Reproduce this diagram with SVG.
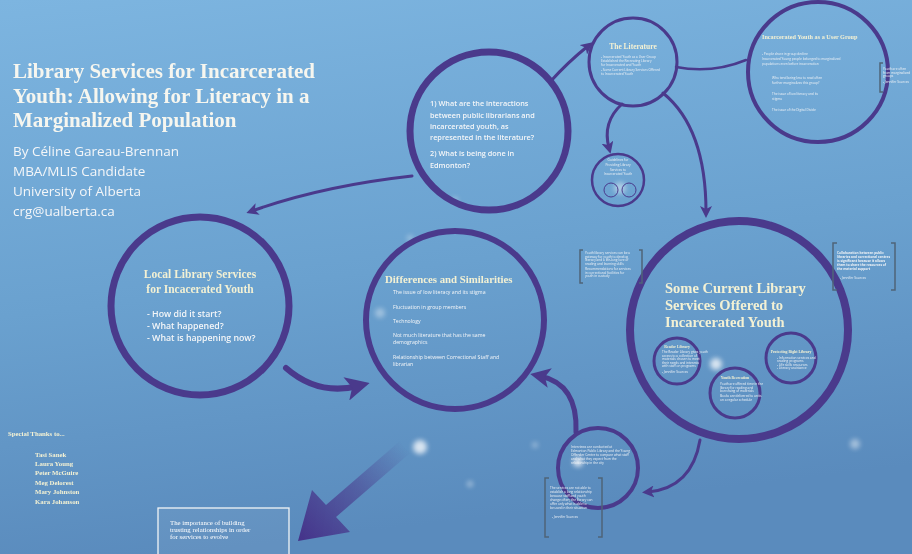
<svg xmlns="http://www.w3.org/2000/svg" width="912" height="554" viewBox="0 0 912 554">
<defs>
<linearGradient id="bg" x1="0" y1="0" x2="0.2" y2="1">
<stop offset="0" stop-color="#7db5e0"/>
<stop offset="0.55" stop-color="#6aa1cf"/>
<stop offset="1" stop-color="#5a8bbd"/>
</linearGradient>
<linearGradient id="bigArrow" x1="405" y1="447" x2="300" y2="540" gradientUnits="userSpaceOnUse">
<stop offset="0" stop-color="#4a3a8c" stop-opacity="0"/>
<stop offset="0.45" stop-color="#4a3a8c" stop-opacity="0.55"/>
<stop offset="1" stop-color="#45338a"/>
</linearGradient>
<filter id="blur" x="-1" y="-1" width="3" height="3"><feGaussianBlur stdDeviation="2.5"/></filter>
<marker id="ah" viewBox="0 0 10 10" refX="5" refY="5" markerWidth="4" markerHeight="4" orient="auto" markerUnits="strokeWidth">
<path d="M0,0 L10,5 L0,10 L2.5,5 Z" fill="#4a3a8c"/>
</marker>
</defs>
<style>
.ring{fill:none;stroke:#4a3a8c}
.con{fill:none;stroke:#4a3a8c;stroke-linecap:round}
.serif{font-family:"Liberation Serif","DejaVu Serif",serif;font-weight:bold;fill:#f3f1d4}
.title{fill:#f6f6ef}
.sub{fill:#eef0d8}
.white{fill:#ffffff;font-weight:normal}
.sans{font-family:"Open Sans","Liberation Sans",sans-serif;fill:#f4f6f8}
.tiny{font-family:"Open Sans","Liberation Sans",sans-serif;fill:#eef2f6;font-size:3.2px}
.br{fill:none;stroke:#4f6478;stroke-width:1.5}
.dot{fill:#ffffff;filter:url(#blur)}
</style>
<rect x="0" y="0" width="912" height="554" fill="url(#bg)"/>

<g id="bokeh" opacity="0.75">
<circle class="dot" cx="420" cy="447" r="7"/>
<circle class="dot" cx="380" cy="313" r="5" opacity="0.5"/>
<circle class="dot" cx="716" cy="364" r="6"/>
<circle class="dot" cx="578" cy="462" r="5"/>
<circle class="dot" cx="855" cy="444" r="5" opacity="0.6"/>
<circle class="dot" cx="470" cy="484" r="3" opacity="0.6"/>
<circle class="dot" cx="535" cy="445" r="3" opacity="0.5"/>
<circle class="dot" cx="410" cy="238" r="3" opacity="0.5"/>
<circle class="dot" cx="620" cy="188" r="6" opacity="0.6"/>
<circle class="dot" cx="455" cy="200" r="3" opacity="0.5"/>
</g>

<g id="connectors">
<path class="con" d="M550,82 Q568,62 588,46" stroke-width="3" marker-end="url(#ah)"/>
<path class="con" d="M622,104 Q602,122 609,148" stroke-width="3" marker-end="url(#ah)"/>
<path class="con" d="M676,67 Q712,74 746,60" stroke-width="2.5"/>
<path class="con" d="M663,93 Q706,128 706,212" stroke-width="3" marker-end="url(#ah)"/>
<path class="con" d="M412,176 Q322,186 252,211" stroke-width="3" marker-end="url(#ah)"/>
<path class="con" d="M286,368 Q318,396 358,386" stroke-width="6" marker-end="url(#ah)"/>
<path class="con" d="M576,432 Q578,384 540,376" stroke-width="5" marker-end="url(#ah)"/>
<path class="con" d="M700,440 Q692,488 648,492" stroke-width="3" marker-end="url(#ah)"/>
<polygon points="400,441 326,505 312,490 298,541 350,532 336,517 410,453" fill="url(#bigArrow)"/>
</g>

<g id="title">
<text class="serif title" font-size="21" x="13" y="78">Library Services for Incarcerated</text>
<text class="serif title" font-size="21" x="13" y="103">Youth: Allowing for Literacy in a</text>
<text class="serif title" font-size="21" x="13" y="127">Marginalized Population</text>
<text class="sans sub" font-size="13.5" x="13" y="156">By Céline Gareau-Brennan</text>
<text class="sans sub" font-size="13.5" x="13" y="176">MBA/MLIS Candidate</text>
<text class="sans sub" font-size="13.5" x="13" y="196">University of Alberta</text>
<text class="sans sub" font-size="13.5" x="13" y="216">crg@ualberta.ca</text>
</g>

<g id="questions">
<circle class="ring" cx="489" cy="131" r="79" stroke-width="7"/>
<text class="sans" font-size="7.3" font-weight="600" x="430" y="106">1) What are the interactions</text>
<text class="sans" font-size="7.3" font-weight="600" x="430" y="118">between public librarians and</text>
<text class="sans" font-size="7.3" font-weight="600" x="430" y="129">incarcerated youth, as</text>
<text class="sans" font-size="7.3" font-weight="600" x="430" y="140">represented in the literature?</text>
<text class="sans" font-size="7.3" font-weight="600" x="430" y="156">2) What is being done in</text>
<text class="sans" font-size="7.3" font-weight="600" x="430" y="168">Edmonton?</text>
</g>

<g id="literature">
<circle class="ring" cx="633" cy="62" r="44" stroke-width="3"/>
<text class="serif" font-size="7.5" x="633" y="49" text-anchor="middle">The Literature</text>
<text class="tiny" x="601" y="58">- Incarcerated Youth as a User Group</text>
<text class="tiny" x="601" y="62">Established the Recreating Library</text>
<text class="tiny" x="601" y="66">for Incarcerated and Youth</text>
<text class="tiny" x="601" y="71">- Some Current Library Services Offered</text>
<text class="tiny" x="601" y="75">to Incarcerated Youth</text>
</g>

<g id="user-group">
<circle class="ring" cx="818" cy="72" r="70" stroke-width="4"/>
<text class="serif" font-size="6.2" x="762" y="39">Incarcerated Youth as a User Group</text>
<text class="tiny" x="762" y="55">- People share in group decline</text>
<text class="tiny" x="762" y="60">Incarcerated Young people belonged to marginalized</text>
<text class="tiny" x="762" y="65">populations even before incarceration</text>
<text class="tiny" x="772" y="79">Who tend being less to read often</text>
<text class="tiny" x="772" y="84">further marginalizes this group?</text>
<text class="tiny" x="772" y="95">The issue of low literacy and its</text>
<text class="tiny" x="772" y="100">stigma</text>
<text class="tiny" x="772" y="111">The issue of the Digital Divide</text>
</g>

<g id="note-user-group">
<path class="br" d="M883,63 L880,63 L880,92 L883,92"/>
<text class="tiny" font-size="2.3" x="883" y="70">Youth are often</text>
<text class="tiny" font-size="2.3" x="883" y="73.5">from marginalized</text>
<text class="tiny" font-size="2.3" x="883" y="77">groups</text>
<text class="tiny" font-size="2.3" x="883" y="83">- Jennifer Sources</text>
</g>

<g id="guidelines">
<circle class="ring" cx="618" cy="180" r="26" stroke-width="2.5"/>
<text class="tiny" x="618" y="161" text-anchor="middle">Guidelines for</text>
<text class="tiny" x="618" y="166" text-anchor="middle">Providing Library</text>
<text class="tiny" x="618" y="170.5" text-anchor="middle">Services to</text>
<text class="tiny" x="618" y="175" text-anchor="middle">Incarcerated Youth</text>
<circle class="ring" cx="611" cy="190" r="7" stroke-width="1" stroke="#8aa8d8"/>
<circle class="ring" cx="629" cy="190" r="7" stroke-width="1" stroke="#8aa8d8"/>
</g>

<g id="local">
<circle class="ring" cx="200" cy="306" r="89" stroke-width="7"/>
<text class="serif" font-size="11.5" x="200" y="278" text-anchor="middle">Local Library Services</text>
<text class="serif" font-size="11.5" x="200" y="293" text-anchor="middle">for Incacerated Youth</text>
<text class="sans" font-size="8.8" font-weight="600" x="147" y="317">- How did it start?</text>
<text class="sans" font-size="8.8" font-weight="600" x="147" y="329">- What happened?</text>
<text class="sans" font-size="8.8" font-weight="600" x="147" y="341">- What is happening now?</text>
</g>

<g id="differences">
<circle class="ring" cx="455" cy="320" r="89" stroke-width="6"/>
<text class="serif" font-size="10.8" x="385" y="283">Differences and Similarities</text>
<text class="sans" font-size="5.2" x="393" y="294">The issue of low literacy and its stigma</text>
<text class="sans" font-size="5.2" x="393" y="309">Fluctuation in group members</text>
<text class="sans" font-size="5.2" x="393" y="323">Technology</text>
<text class="sans" font-size="5.2" x="393" y="337">Not much literature that has the same</text>
<text class="sans" font-size="5.2" x="393" y="343.5">demographics</text>
<text class="sans" font-size="5.2" x="393" y="359">Relationship between Correctional Staff and</text>
<text class="sans" font-size="5.2" x="393" y="365.5">librarian</text>
</g>

<g id="current">
<circle class="ring" cx="739" cy="330" r="109" stroke-width="8"/>
<text class="serif" font-size="14.5" x="665" y="293">Some Current Library</text>
<text class="serif" font-size="14.5" x="665" y="310">Services Offered to</text>
<text class="serif" font-size="14.5" x="665" y="327">Incarcerated Youth</text>
</g>

<g id="reader-library">
<circle class="ring" cx="677" cy="361" r="23" stroke-width="3"/>
<text class="serif" font-size="3.8" x="677" y="348" text-anchor="middle">Reader Library</text>
<text class="tiny" font-size="2.3" x="662" y="353">The Reader Library gives youth</text>
<text class="tiny" font-size="2.3" x="662" y="356.5">access to a collection of</text>
<text class="tiny" font-size="2.3" x="662" y="360">materials chosen to meet</text>
<text class="tiny" font-size="2.3" x="662" y="363.5">their needs and interests</text>
<text class="tiny" font-size="2.3" x="662" y="367">with staff on programs</text>
<text class="tiny" font-size="2.3" x="662" y="373">- Jennifer Sources</text>
</g>

<g id="youth-recreation">
<circle class="ring" cx="735" cy="393" r="25" stroke-width="3"/>
<text class="serif" font-size="3.8" x="735" y="379" text-anchor="middle">Youth Recreation</text>
<text class="tiny" font-size="2.3" x="720" y="385">Youth are offered time in the</text>
<text class="tiny" font-size="2.3" x="720" y="388.5">library for reading and</text>
<text class="tiny" font-size="2.3" x="720" y="392">borrowing of materials</text>
<text class="tiny" font-size="2.3" x="720" y="397">Books are delivered to units</text>
<text class="tiny" font-size="2.3" x="720" y="400.5">on a regular schedule</text>
</g>

<g id="protecting">
<circle class="ring" cx="791" cy="358" r="25" stroke-width="3"/>
<text class="serif" font-size="3.8" x="791" y="353" text-anchor="middle">Protecting Right Library</text>
<text class="tiny" font-size="2.3" x="777" y="358.5">- Information services and</text>
<text class="tiny" font-size="2.3" x="777" y="362">reading programs</text>
<text class="tiny" font-size="2.3" x="777" y="365.5">- Life skills resources</text>
<text class="tiny" font-size="2.3" x="777" y="369">- Literacy assistance</text>
</g>

<g id="note-left">
<path class="br" d="M583,250 L580,250 L580,283 L583,283"/>
<path class="br" d="M639,250 L642,250 L642,283 L639,283"/>
<text class="tiny" font-size="2.3" x="585" y="254">Youth library services can be a</text>
<text class="tiny" font-size="2.3" x="585" y="257.5">gateway for youth to develop</text>
<text class="tiny" font-size="2.3" x="585" y="261">literacy and a life-long love of</text>
<text class="tiny" font-size="2.3" x="585" y="264.5">reading and learning skills</text>
<text class="tiny" font-size="2.3" x="585" y="270">Recommendations for services</text>
<text class="tiny" font-size="2.3" x="585" y="273.5">in correctional facilities for</text>
<text class="tiny" font-size="2.3" x="585" y="277">youth in custody</text>
</g>

<g id="note-right">
<path class="br" d="M837,243 L833,243 L833,290 L837,290"/>
<path class="br" d="M891,243 L895,243 L895,290 L891,290"/>
<text class="tiny" font-size="2.6" font-weight="bold" x="837" y="254">Collaboration between public</text>
<text class="tiny" font-size="2.6" font-weight="bold" x="837" y="258">libraries and correctional centres</text>
<text class="tiny" font-size="2.6" font-weight="bold" x="837" y="262">is significant because it allows</text>
<text class="tiny" font-size="2.6" font-weight="bold" x="837" y="266">them to share the resources of</text>
<text class="tiny" font-size="2.6" font-weight="bold" x="837" y="270">the material support</text>
<text class="tiny" font-size="2.6" x="840" y="279">- Jennifer Sources</text>
</g>

<g id="edmonton">
<circle class="ring" cx="598" cy="468" r="40" stroke-width="4"/>
<text class="tiny" font-size="3" x="571" y="448">Interviews are conducted at</text>
<text class="tiny" font-size="3" x="571" y="452">Edmonton Public Library and the Young</text>
<text class="tiny" font-size="3" x="571" y="456">Offender Centre to compare what staff</text>
<text class="tiny" font-size="3" x="571" y="460">and what they expect from the</text>
<text class="tiny" font-size="3" x="571" y="464">relationship in the city</text>
</g>

<g id="note-bottom">
<path class="br" d="M549,478 L545,478 L545,537 L549,537"/>
<path class="br" d="M598,478 L602,478 L602,537 L598,537"/>
<text class="tiny" font-size="2.6" x="550" y="489">The services are not able to</text>
<text class="tiny" font-size="2.6" x="550" y="493">establish a long relationship</text>
<text class="tiny" font-size="2.6" x="550" y="497">because staff and youth</text>
<text class="tiny" font-size="2.6" x="550" y="501">change often; the library can</text>
<text class="tiny" font-size="2.6" x="550" y="505">offer only what is able to</text>
<text class="tiny" font-size="2.6" x="550" y="509">be used in their situation</text>
<text class="tiny" font-size="2.6" x="552" y="518">- Jennifer Sources</text>
</g>

<g id="thanks">
<text class="serif" font-size="6.8" x="8" y="436">Special Thanks to...</text>
<text class="serif" font-size="6.8" x="35" y="457">Tasi Sanek</text>
<text class="serif" font-size="6.8" x="35" y="466">Laura Young</text>
<text class="serif" font-size="6.8" x="35" y="475">Peter McGuire</text>
<text class="serif" font-size="6.8" x="35" y="485">Meg Delorest</text>
<text class="serif" font-size="6.8" x="35" y="494">Mary Johnston</text>
<text class="serif" font-size="6.8" x="35" y="504">Kara Johanson</text>
</g>

<g id="importance">
<rect x="158" y="508" width="131" height="52" fill="#ffffff" fill-opacity="0.06" stroke="#f2f4f6" stroke-width="1.3"/>
<text class="serif white" font-size="6.8" x="170" y="525">The importance of building</text>
<text class="serif white" font-size="6.8" x="170" y="532">trusting relationships in order</text>
<text class="serif white" font-size="6.8" x="170" y="539">for services to evolve</text>
</g>
</svg>
